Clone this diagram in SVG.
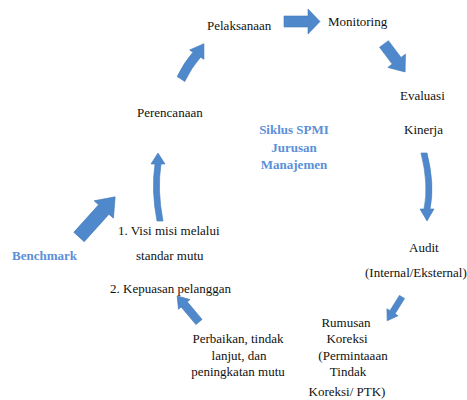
<svg xmlns="http://www.w3.org/2000/svg" width="467" height="400" viewBox="0 0 467 400">
<style>
text{font-family:'Liberation Serif','Times New Roman',Times,serif;font-size:13px}
.t{fill:#111}
.b{font-weight:bold;fill:#5b8fd8}
.m{text-anchor:middle}
.a{fill:#4f89cb;stroke:#4278b8;stroke-width:0.6}
</style>
<rect width="467" height="400" fill="#fff"/>
<g id="connectors">
<path class="a" transform="translate(181,79) rotate(-57)" d="M0,-4.5 Q15,-6.5 29,-4.5 L29,-8.5 L42,0 L29,8.5 L29,4.5 Q15,2.5 0,4.5 Z"/>
<path class="a" d="M284,16 L308,16 L308,9 L320,21.5 L308,34 L308,27 L284,27 Z"/>
<path class="a" transform="translate(384,44) rotate(53)" d="M0,-5.5 L21,-5.5 L21,-11 L35,0 L21,11 L21,5.5 L0,5.5 Z"/>
<path class="a" d="M421,153 Q429,185 424,209 L420,209 L427,221 L434,209 L430,209 Q435,185 427,153 Z"/>
<path class="a" transform="translate(402,297) rotate(122)" d="M0,-3 L18,-3 L18,-6.5 L28,0 L18,6.5 L18,3 L0,3 Z"/>
<path class="a" transform="translate(199,322) rotate(-130)" d="M0,-4 L23,-4 L23,-7.5 L34,0 L23,7.5 L23,4 L0,4 Z"/>
<path class="a" d="M157,221 Q151,190 155,164 L151,164 L158,153 L165,164 L161,164 Q157,190 163,221 Z"/>
<path class="a" transform="translate(79,237) rotate(-48)" d="M0,-7 L37,-7 L37,-13 L54,0 L37,13 L37,7 L0,7 Z"/>
</g>
<g id="pelaksanaan"><text class="t" x="207" y="30" font-family="Liberation Serif, serif">Pelaksanaan</text></g>
<g id="monitoring"><text class="t" x="328" y="26" font-family="Liberation Serif, serif">Monitoring</text></g>
<g id="evaluasi"><text class="t" x="400" y="100" font-family="Liberation Serif, serif">Evaluasi</text><text class="t" x="404" y="134" font-family="Liberation Serif, serif">Kinerja</text></g>
<g id="perencanaan"><text class="t" x="137" y="117" font-family="Liberation Serif, serif">Perencanaan</text></g>
<g id="title"><text class="b m" x="294" y="134" font-family="Liberation Serif, serif">Siklus SPMI</text><text class="b m" x="294" y="152" font-family="Liberation Serif, serif">Jurusan</text><text class="b m" x="294" y="169" font-family="Liberation Serif, serif">Manajemen</text></g>
<g id="standar"><text class="t" x="118" y="235" font-family="Liberation Serif, serif">1. Visi misi melalui</text><text class="t" x="136" y="260" font-family="Liberation Serif, serif">standar mutu</text><text class="t" x="110" y="293" font-family="Liberation Serif, serif">2. Kepuasan pelanggan</text></g>
<g id="benchmark"><text class="b" x="12" y="260" font-family="Liberation Serif, serif">Benchmark</text></g>
<g id="audit"><text class="t" x="409" y="252" font-family="Liberation Serif, serif">Audit</text><text class="t" x="365" y="277" font-family="Liberation Serif, serif">(Internal/Eksternal)</text></g>
<g id="rumusan"><text class="t m" x="346" y="327" font-family="Liberation Serif, serif">Rumusan</text><text class="t m" x="347" y="343" font-family="Liberation Serif, serif">Koreksi</text><text class="t m" x="353" y="360" font-family="Liberation Serif, serif">(Permintaaan</text><text class="t m" x="348" y="376" font-family="Liberation Serif, serif">Tindak</text><text class="t m" x="347" y="396" font-family="Liberation Serif, serif">Koreksi/ PTK)</text></g>
<g id="perbaikan"><text class="t m" x="238" y="343" font-family="Liberation Serif, serif">Perbaikan, tindak</text><text class="t m" x="239" y="360" font-family="Liberation Serif, serif">lanjut, dan</text><text class="t m" x="238" y="376" font-family="Liberation Serif, serif">peningkatan mutu</text></g>
</svg>
